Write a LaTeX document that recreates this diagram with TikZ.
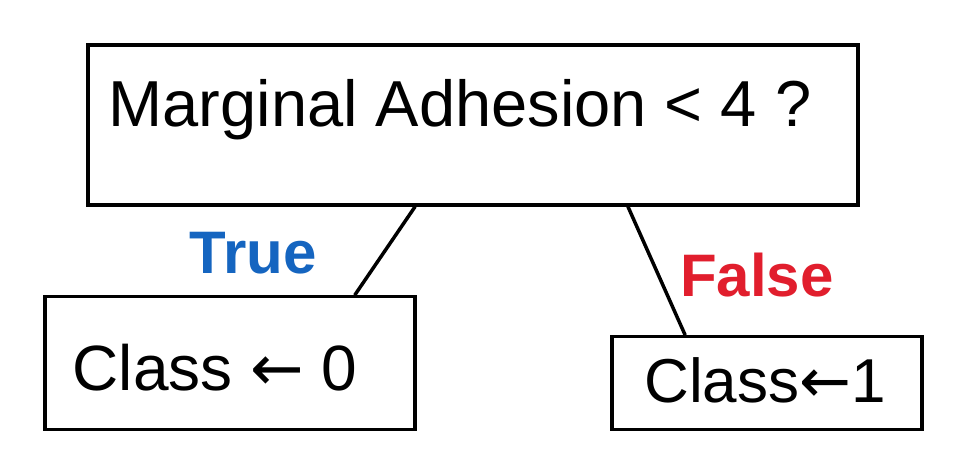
\documentclass[tikz,border=0pt]{standalone}
\usepackage{fontspec}
\setmainfont{Liberation Sans}
\newfontfamily\arrowfont{DejaVu Sans}
\begin{document}
\begin{tikzpicture}[x=1pt,y=-1pt,
  box/.style={draw=black, line width=3.5pt, rectangle, inner sep=0pt},
  link/.style={draw=black, line width=3.5pt, line cap=round},
  lbl/.style={font=\fontsize{60}{64}\selectfont\bfseries}]
\useasboundingbox[fill=white] (0,0) rectangle (971,473);
\node[box, minimum width=770pt, minimum height=160pt] (top) at (473,125) {};
\node[font=\fontsize{65}{68}\selectfont] (toptext) at (460,110) {Marginal Adhesion < 4 ?};
\node[box, minimum width=370pt, minimum height=133pt] (left) at (230,363) {};
\node[font=\fontsize{64}{66}\selectfont] (lefttext) at (215,368) {Class {\arrowfont ←} 0};
\node[box, minimum width=310pt, minimum height=93pt] (right) at (767,383) {};
\node[font=\fontsize{62}{66}\selectfont] (righttext) at (765,380) {Class{\arrowfont ←}1};
\draw[link] (top.south -| 415,0) -- (left.north -| 355,0);
\draw[link] (top.south -| 628,0) -- (right.north -| 685,0);
\node[lbl, text={rgb,255:red,21;green,101;blue,192}] (t) at (253,253) {True};
\node[lbl, text={rgb,255:red,225;green,30;blue,45}] (f) at (757,275) {False};
\end{tikzpicture}
\end{document}
